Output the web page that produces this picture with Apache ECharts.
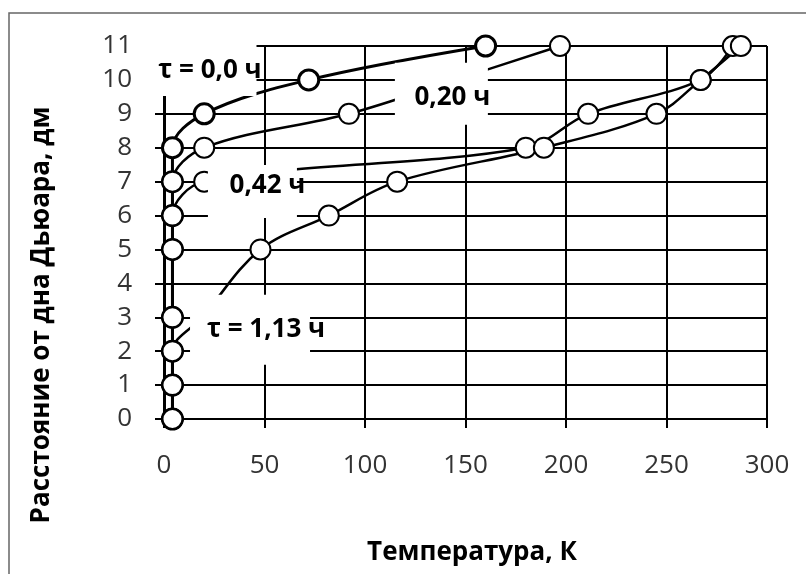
<!DOCTYPE html>
<html>
<head>
<meta charset="utf-8">
<script src="https://cdn.jsdelivr.net/npm/echarts@6/dist/echarts.min.js"></script>
<style>
    html, body {margin: 0; padding: 0; background: #fff;}
    #chart {width: 806px; height: 574px;}
</style>
</head>
<body>
<div id="chart"></div>
<script>
    // heights of the sensors above the dewar bottom, dm
    const heights = [0, 1, 2, 3, 5, 6, 7, 8, 9, 10, 11];
    // temperature at each height, K
    const temps000 = [4.2, 4.2, 4.2, 4.2, 4.2, 4.2, 4.2, 4.2, 20, 72, 160];
    const temps020 = [4.2, 4.2, 4.2, 4.2, 4.2, 4.2, 4.2, 20, 92, 145, 197];
    const temps042 = [4.2, 4.2, 4.2, 4.2, 4.2, 4.2, 20, 180, 211, 267, 283];
    const temps113 = [4.2, 4.2, 4.2, 19, 48, 82, 116, 189, 245, 267, 287];
    const curveNames = ['τ = 0,0 ч', '0,20 ч', '0,42 ч', 'τ = 1,13 ч'];
    const xTitle = 'Температура, К';
    const yTitle = 'Расстояние от дна Дьюара, дм';

    const font = '"Open Sans", "Noto Sans", sans-serif';
    const allTemps = [temps000, temps020, temps042, temps113];
    const pairs = t => t.map((v, i) => [v, heights[i]]);

    // text boxes sitting on top of the curves (white, no border)
    const boxes = [
        {coord: [19.4, 10.35], size: [107, 56], offset: [7, 3]},
        {coord: [138, 9.59], size: [93, 62], offset: [11, 4]},
        {coord: [44, 6.71], size: [89, 53], offset: [15, -6]},
        {coord: [42.8, 2.63], size: [120, 70], offset: [16, 0]}
    ];

    let series = [];
    allTemps.forEach((t, i) => {
        series.push({
            name: curveNames[i], type: 'line', data: pairs(t), smooth: 0.35, symbol: 'none', z: 2,
            lineStyle: {color: '#000', width: i === 0 ? 3 : 2.5}
        });
    });
    allTemps.forEach((t, i) => {
        series.push({
            name: curveNames[i] + ' pts', type: 'scatter', data: pairs(t), symbol: 'circle', symbolSize: 20, z: 3,
            itemStyle: {color: '#fff', opacity: 1, borderColor: '#000', borderWidth: i === 0 ? 3 : 2}
        });
    });
    series[0].markPoint = {
        z: 5, silent: true,
        data: boxes.map((b, i) => ({
            coord: b.coord, symbol: 'rect', symbolSize: b.size,
            itemStyle: {color: '#fff', borderWidth: 0},
            label: {
                show: true, position: 'inside', offset: b.offset, formatter: curveNames[i],
                color: '#000', fontFamily: font, fontWeight: 'bold', fontSize: 26
            }
        }))
    };

    const chart = echarts.init(document.getElementById('chart'));
    chart.setOption({
        animation: false,
        grid: {left: 164, right: 39, top: 46, bottom: 155},
        xAxis: {
            type: 'value', min: 0, max: 300, interval: 50,
            axisLine: {lineStyle: {color: '#000', width: 2}},
            axisTick: {show: true, length: 9, lineStyle: {color: '#000', width: 2}},
            splitLine: {show: true, lineStyle: {color: '#000', width: 2}},
            axisLabel: {color: '#333', fontFamily: font, fontSize: 26, margin: 34}
        },
        yAxis: {
            type: 'value', min: 0, max: 11, interval: 1,
            axisLine: {show: true, lineStyle: {color: '#000', width: 3}},
            axisTick: {show: true, length: 9, lineStyle: {color: '#000', width: 2}},
            splitLine: {show: true, lineStyle: {color: '#000', width: 2}},
            axisLabel: {color: '#333', fontFamily: font, fontSize: 26, margin: 32}
        },
        graphic: [
            {
                type: 'rect', silent: true, shape: {x: 9, y: 13, width: 1000, height: 1000},
                style: {fill: 'none', stroke: '#666', lineWidth: 1.5}
            },
            {
                type: 'text', x: 42, y: 315, rotation: Math.PI / 2,
                style: {
                    text: yTitle, fill: '#000', font: 'bold 26px ' + font,
                    align: 'center', verticalAlign: 'middle', textAlign: 'center', textVerticalAlign: 'middle'
                }
            },
            {
                type: 'text', x: 472, y: 553,
                style: {
                    text: xTitle, fill: '#000', font: 'bold 26px ' + font,
                    align: 'center', verticalAlign: 'middle', textAlign: 'center', textVerticalAlign: 'middle'
                }
            }
        ],
        series: series
    });
</script>
</body>
</html>
